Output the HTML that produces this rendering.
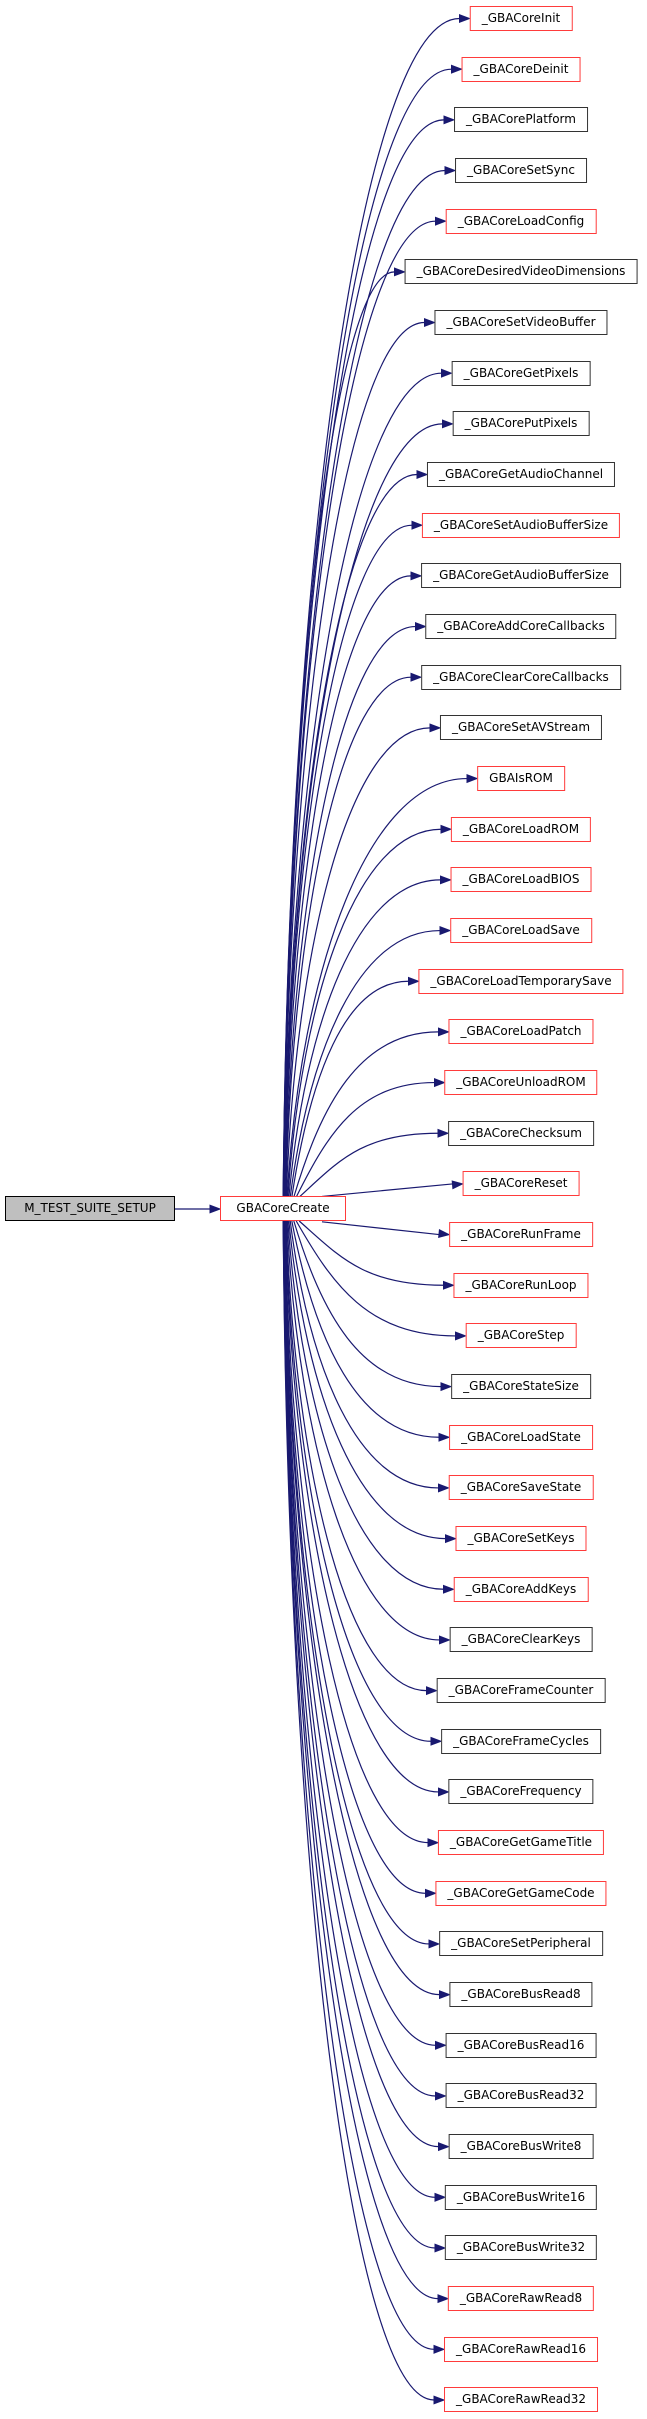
<!DOCTYPE html>
<html><head><meta charset="utf-8"><style>
html,body{margin:0;padding:0;background:#fff;}
body{width:647px;height:2419px;position:relative;overflow:hidden;font-family:"DejaVu Sans","Liberation Sans",sans-serif;font-size:12px;}
.n{position:absolute;height:23px;line-height:23px;padding:0 11px;border:1px solid #333;background:#fff;white-space:nowrap;color:#000;transform:translateX(-50%);left:521px;}
.r{border-color:#ff3b3b;}
svg{position:absolute;left:0;top:0;}
</style></head><body>
<svg id="s" width="647" height="2419"></svg>
<div class="n" style="left:89px;transform:none;left:5px;width:146px;text-align:center;top:1196px;background:#bfbfbf;border-color:#000;padding:0 11px">M_TEST_SUITE_SETUP</div>
<div class="n r" id="cr" style="transform:none;left:220px;width:102px;text-align:center;top:1196px">GBACoreCreate</div>
<div id="list">
<div class="n r">_GBACoreInit</div>
<div class="n r">_GBACoreDeinit</div>
<div class="n">_GBACorePlatform</div>
<div class="n">_GBACoreSetSync</div>
<div class="n r">_GBACoreLoadConfig</div>
<div class="n">_GBACoreDesiredVideoDimensions</div>
<div class="n">_GBACoreSetVideoBuffer</div>
<div class="n">_GBACoreGetPixels</div>
<div class="n">_GBACorePutPixels</div>
<div class="n">_GBACoreGetAudioChannel</div>
<div class="n r">_GBACoreSetAudioBufferSize</div>
<div class="n">_GBACoreGetAudioBufferSize</div>
<div class="n">_GBACoreAddCoreCallbacks</div>
<div class="n">_GBACoreClearCoreCallbacks</div>
<div class="n">_GBACoreSetAVStream</div>
<div class="n r">GBAIsROM</div>
<div class="n r">_GBACoreLoadROM</div>
<div class="n r">_GBACoreLoadBIOS</div>
<div class="n r">_GBACoreLoadSave</div>
<div class="n r">_GBACoreLoadTemporarySave</div>
<div class="n r">_GBACoreLoadPatch</div>
<div class="n r">_GBACoreUnloadROM</div>
<div class="n">_GBACoreChecksum</div>
<div class="n r">_GBACoreReset</div>
<div class="n r">_GBACoreRunFrame</div>
<div class="n r">_GBACoreRunLoop</div>
<div class="n r">_GBACoreStep</div>
<div class="n">_GBACoreStateSize</div>
<div class="n r">_GBACoreLoadState</div>
<div class="n r">_GBACoreSaveState</div>
<div class="n r">_GBACoreSetKeys</div>
<div class="n r">_GBACoreAddKeys</div>
<div class="n">_GBACoreClearKeys</div>
<div class="n">_GBACoreFrameCounter</div>
<div class="n">_GBACoreFrameCycles</div>
<div class="n">_GBACoreFrequency</div>
<div class="n r">_GBACoreGetGameTitle</div>
<div class="n r">_GBACoreGetGameCode</div>
<div class="n">_GBACoreSetPeripheral</div>
<div class="n">_GBACoreBusRead8</div>
<div class="n">_GBACoreBusRead16</div>
<div class="n">_GBACoreBusRead32</div>
<div class="n">_GBACoreBusWrite8</div>
<div class="n">_GBACoreBusWrite16</div>
<div class="n">_GBACoreBusWrite32</div>
<div class="n r">_GBACoreRawRead8</div>
<div class="n r">_GBACoreRawRead16</div>
<div class="n r">_GBACoreRawRead32</div>
</div>
<script>
(function(){
var C="#191970",s=document.getElementById("s"),h="";
function arrow(x,y,dx,dy){var L=Math.hypot(dx,dy)||1;dx/=L;dy/=L;var bx=x-dx*10,by=y-dy*10,px=-dy*3.8,py=dx*3.8;
return '<polygon points="'+x+','+y+' '+(bx+px)+','+(by+py)+' '+(bx-px)+','+(by-py)+'" fill="'+C+'" stroke="'+C+'"/>';}
h+='<path d="M152,1209 L210,1209" stroke="'+C+'" stroke-width="1.2" fill="none"/>'+arrow(220,1209,1,0);
var ns=document.querySelectorAll("#list .n");
for(var i=0;i<ns.length;i++){
 var n=ns[i],cy=18.5+i*50.67;n.style.top=(cy-12.5)+"px";
 var w=n.offsetWidth,ex=521-w/2,ey=cy,dy=ey-1209;
 var sx,sy,c1x,c1y,c2x,c2y,ax=ex;
 if(Math.abs(dy)<30){sx=322;sy=1209+dy*0.5;
   h+='<path d="M'+sx+','+sy+' L'+(ex-10)+','+(ey)+'" stroke="'+C+'" stroke-width="1.2" fill="none"/>'+arrow(ex,ey,ex-sx,ey-sy);continue;}
 var a=Math.abs(dy);
 sx=283+22*Math.exp(-a/250);sy=dy<0?1197:1221;
 var dx=ex-10-sx,ddy=ey-sy;
 var k1=0.35*Math.exp(-a/220)+0.03;
 c1x=sx+dx*k1;c1y=sy+ddy*0.55;c2x=sx+dx*0.45;c2y=ey;
 h+='<path d="M'+sx+','+sy+' C'+c1x+','+c1y+' '+c2x+','+c2y+' '+(ex-10)+','+ey+'" stroke="'+C+'" stroke-width="1.2" fill="none"/>'+arrow(ex,ey,1,0);
}
s.innerHTML=h;
})();
</script>
</body></html>
